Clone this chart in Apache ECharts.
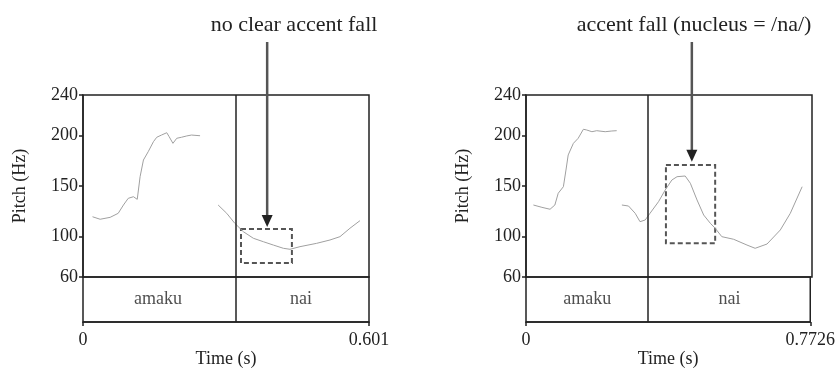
<!DOCTYPE html>
<html><head><meta charset="utf-8">
<script src="https://cdn.jsdelivr.net/npm/echarts@6/dist/echarts.min.js"></script>
<style>html,body{margin:0;padding:0;background:#fff}#c{width:838px;height:369px}</style>
</head><body><div id="c"></div>
<script>
// ---- data ----
const pitchTicks = [60, 100, 150, 200, 240];
const tierLabels = ['amaku', 'nai'];

const leftBounds = [0, 0.315, 0.601];
const leftTimeLabels = ['0', '0.601'];
const leftContourA = [[0.020,119.6],[0.036,117.1],[0.057,119.0],[0.074,123.0],[0.085,131.2],[0.095,137.8],[0.106,139.4],[0.114,136.8],[0.120,159.2],[0.127,175.7],[0.137,183.9],[0.148,193.8],[0.155,198.2],[0.165,200.4],[0.176,202.7],[0.181,198.8],[0.189,192.2],[0.197,197.2],[0.207,198.2],[0.218,199.5],[0.228,200.4],[0.246,199.7]];
const leftContourB = [[0.284,131.2],[0.302,123.0],[0.319,113.1],[0.337,104.8],[0.358,98.3],[0.379,94.9],[0.400,91.6],[0.421,88.4],[0.435,87.4],[0.456,90.0],[0.491,93.3],[0.519,96.6],[0.540,99.9],[0.561,108.2],[0.582,115.7]];
const leftBox = [[0.332, 107.5], [0.439, 73.8]];
const leftArrow = [0.387, 109.5];
const leftTitle = 'no clear accent fall';

const rightBounds = [0, 0.3334, 0.7726];
const rightTimeLabels = ['0', '0.7726'];
const rightContourA = [[0.020,131.2],[0.043,128.9],[0.065,127.0],[0.078,131.2],[0.087,142.8],[0.101,149.3],[0.108,165.8],[0.114,180.7],[0.128,192.2],[0.141,197.2],[0.155,206.1],[0.164,205.4],[0.178,203.7],[0.191,204.7],[0.214,203.7],[0.232,204.4],[0.245,204.7]];
const rightContourB = [[0.259,131.2],[0.277,130.2],[0.295,123.0],[0.308,114.7],[0.322,116.4],[0.335,123.0],[0.358,134.5],[0.376,146.0],[0.394,155.9],[0.408,159.2],[0.430,159.9],[0.444,152.7],[0.462,136.2],[0.480,121.3],[0.498,113.1],[0.511,108.2],[0.529,99.9],[0.561,97.3],[0.597,91.6],[0.619,88.4],[0.651,92.6],[0.687,106.5],[0.714,123.0],[0.746,149.3]];
const rightBox = [[0.378, 170.8], [0.511, 93.3]];
const rightArrow = [0.448, 174.0];
const rightTitle = 'accent fall (nucleus = /na/)';

// ---- style ----
const FONT = '"Liberation Serif", "Times New Roman", serif';
const INK = '#222';
const panels = [
  {left: 83, bounds: leftBounds, timeLabels: leftTimeLabels, a: leftContourA, b: leftContourB, box: leftBox, arrow: leftArrow, title: leftTitle, titleX: 294},
  {left: 526, bounds: rightBounds, timeLabels: rightTimeLabels, a: rightContourA, b: rightContourB, box: rightBox, arrow: rightArrow, title: rightTitle, titleX: 694}
];
const PW = 286, TOP = 95, PH = 182, TH = 46;

const grid = [], xAxis = [], yAxis = [], series = [];
panels.forEach((p, i) => {
  const gP = i * 2, gT = i * 2 + 1;
  const tMax = p.bounds[p.bounds.length - 1];
  grid.push({left: p.left, top: TOP, width: PW, height: PH, show: true, borderColor: INK, borderWidth: 1.5, backgroundColor: 'transparent'});
  grid.push({left: p.left, top: TOP + PH, width: PW, height: TH, show: true, borderColor: INK, borderWidth: 1.5, backgroundColor: 'transparent'});
  xAxis.push({type: 'value', gridIndex: gP, min: 0, max: tMax, show: false});
  xAxis.push({type: 'value', gridIndex: gT, min: 0, max: tMax,
    axisLine: {show: true, lineStyle: {color: INK, width: 1.5}},
    axisTick: {show: true, inside: false, length: 4, customValues: [0, tMax], lineStyle: {color: INK, width: 1.5}},
    axisLabel: {show: true, customValues: [0, tMax], margin: 9, fontFamily: FONT, fontSize: 18, color: INK,
      formatter: v => (v === 0 ? p.timeLabels[0] : p.timeLabels[1])},
    splitLine: {show: false},
    name: 'Time (s)', nameLocation: 'middle', nameGap: 28,
    nameTextStyle: {fontFamily: FONT, fontSize: 18, color: INK}});
  yAxis.push({type: 'value', gridIndex: gP, min: pitchTicks[0], max: pitchTicks[pitchTicks.length - 1],
    axisLine: {show: true, lineStyle: {color: INK, width: 1.5}},
    axisTick: {show: true, inside: false, length: 4, customValues: pitchTicks, lineStyle: {color: INK, width: 1.5}},
    axisLabel: {show: true, customValues: pitchTicks, margin: 5, fontFamily: FONT, fontSize: 18, color: INK},
    splitLine: {show: false},
    name: 'Pitch (Hz)', nameLocation: 'middle', nameGap: 54,
    nameTextStyle: {fontFamily: FONT, fontSize: 18, color: INK}});
  yAxis.push({type: 'value', gridIndex: gT, min: 0, max: 1, show: false});

  const lineCommon = {type: 'line', xAxisIndex: gP, yAxisIndex: gP, showSymbol: false, symbol: 'none', silent: true,
    lineStyle: {color: '#a0a0a0', width: 1}};
  series.push(Object.assign({}, lineCommon, {data: p.a,
    markLine: {silent: true, symbol: ['none', 'none'], label: {show: false},
      lineStyle: {color: INK, width: 1.5, type: 'solid'},
      data: p.bounds.slice(1, -1).map(b => ({xAxis: b}))},
    markArea: {silent: true,
      itemStyle: {color: 'rgba(0,0,0,0)', borderColor: '#555', borderWidth: 2, borderType: [5, 3]},
      data: [[{coord: p.box[0]}, {coord: p.box[1]}]]}}));
  series.push(Object.assign({}, lineCommon, {data: p.b}));
  series.push({type: 'scatter', xAxisIndex: gT, yAxisIndex: gT, symbolSize: 0, silent: true,
    data: tierLabels.map((lab, k) => ({value: [(p.bounds[k] + p.bounds[k + 1]) / 2, 0.5], name: lab})),
    label: {show: true, position: 'inside', formatter: d => d.name, fontFamily: FONT, fontSize: 18, color: INK},
    markLine: {silent: true, symbol: ['none', 'none'], label: {show: false},
      lineStyle: {color: INK, width: 1.5, type: 'solid'},
      data: p.bounds.slice(1, -1).map(b => ({xAxis: b}))}});
});

const chart = echarts.init(document.getElementById('c'), null, {renderer: 'canvas'});
chart.setOption({animation: false, grid, xAxis, yAxis, series});

const graphic = [];
panels.forEach((p, i) => {
  const gP = i * 2;
  const tip = chart.convertToPixel({xAxisIndex: gP, yAxisIndex: gP}, p.arrow);
  const startY = TOP - 53;
  const hw = 5.5, hh = 12;
  graphic.push({type: 'line', silent: true, shape: {x1: tip[0], y1: startY, x2: tip[0], y2: tip[1] - hh + 1},
    style: {stroke: '#555', lineWidth: 2.5}});
  graphic.push({type: 'polygon', silent: true, shape: {points: [[tip[0] - hw, tip[1] - hh], [tip[0] + hw, tip[1] - hh], [tip[0], tip[1]]]},
    style: {fill: '#222'}});
  graphic.push({type: 'text', silent: true, x: p.titleX, y: 25,
    style: {text: p.title, font: '22px ' + FONT, fill: INK, textAlign: 'center', textVerticalAlign: 'middle'}});
});
chart.setOption({graphic});
</script>
</body></html>
